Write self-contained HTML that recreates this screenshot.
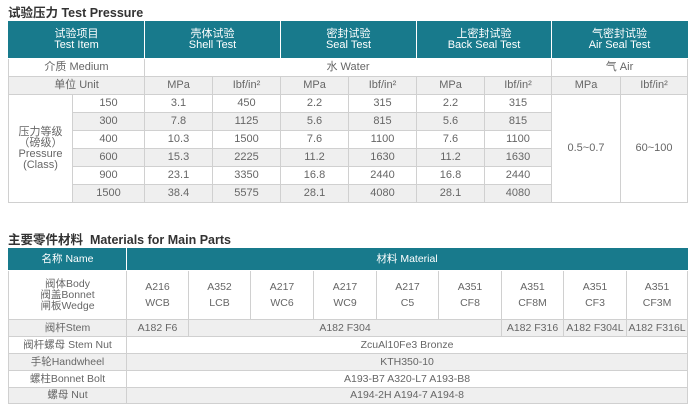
<!DOCTYPE html><html><head><meta charset="utf-8"><style>
*{margin:0;padding:0;box-sizing:border-box}
body{width:694px;height:410px;background:#fff;font-family:"Liberation Sans","Noto Sans CJK SC",sans-serif;color:#666;position:relative;overflow:hidden}
.t{position:absolute;left:8px;font-weight:bold;font-size:12.5px;color:#333}
table{position:absolute;left:8px;border-collapse:collapse;table-layout:fixed;font-size:11px}
td{border:1px solid #d0d0d0;text-align:center;vertical-align:middle;padding:0;line-height:11px;overflow:hidden;white-space:nowrap}
tr.h td{background:#187a8c;color:#fff;border-color:#fff;border-top-color:#187a8c}
tr.h td:first-child{border-left-color:#187a8c}
tr.h td:last-child{border-right-color:#187a8c}
.g{background:#efefef}
.b td{line-height:16px}
.b td:first-child{line-height:11px}
</style></head><body>
<div class="t" style="top:2px">试验压力 Test Pressure</div>
<table style="top:21px;width:679px">
<colgroup><col style="width:64px"><col style="width:72px"><col style="width:68px"><col style="width:68px"><col style="width:68px"><col style="width:68px"><col style="width:68px"><col style="width:67px"><col style="width:69px"><col style="width:67px"></colgroup>
<tr class="h" style="height:37px"><td colspan="2">试验项目<br>Test Item</td><td colspan="2">壳体试验<br>Shell Test</td><td colspan="2">密封试验<br>Seal Test</td><td colspan="2">上密封试验<br>Back Seal Test</td><td colspan="2">气密封试验<br>Air Seal Test</td></tr>
<tr style="height:18px"><td colspan="2">介质 Medium</td><td colspan="6">水 Water</td><td colspan="2">气 Air</td></tr>
<tr class="g" style="height:18px"><td colspan="2">单位 Unit</td><td>MPa</td><td>Ibf/in²</td><td>MPa</td><td>Ibf/in²</td><td>MPa</td><td>Ibf/in²</td><td>MPa</td><td>Ibf/in²</td></tr>
<tr style="height:18px"><td rowspan="6" style="background:#fff">压力等级<br>（磅级）<br>Pressure<br>(Class)</td><td>150</td><td>3.1</td><td>450</td><td>2.2</td><td>315</td><td>2.2</td><td>315</td><td rowspan="6" style="background:#fff">0.5~0.7</td><td rowspan="6" style="background:#fff">60~100</td></tr>
<tr class="g" style="height:18px"><td>300</td><td>7.8</td><td>1125</td><td>5.6</td><td>815</td><td>5.6</td><td>815</td></tr>
<tr style="height:18px"><td>400</td><td>10.3</td><td>1500</td><td>7.6</td><td>1100</td><td>7.6</td><td>1100</td></tr>
<tr class="g" style="height:18px"><td>600</td><td>15.3</td><td>2225</td><td>11.2</td><td>1630</td><td>11.2</td><td>1630</td></tr>
<tr style="height:18px"><td>900</td><td>23.1</td><td>3350</td><td>16.8</td><td>2440</td><td>16.8</td><td>2440</td></tr>
<tr class="g" style="height:18px"><td>1500</td><td>38.4</td><td>5575</td><td>28.1</td><td>4080</td><td>28.1</td><td>4080</td></tr>
</table>
<div class="t" style="top:229px">主要零件材料&nbsp; Materials for Main Parts</div>
<table style="top:248px;width:679px;font-size:10.5px">
<colgroup><col style="width:118px"><col style="width:62px"><col style="width:62px"><col style="width:63px"><col style="width:63px"><col style="width:62px"><col style="width:63px"><col style="width:62px"><col style="width:63px"><col style="width:61px"></colgroup>
<tr class="h" style="height:22px"><td>名称 Name</td><td colspan="9">材料 Material</td></tr>
<tr class="b" style="height:49px"><td>阀体Body<br>阀盖Bonnet<br>闸板Wedge</td><td>A216<br>WCB</td><td>A352<br>LCB</td><td>A217<br>WC6</td><td>A217<br>WC9</td><td>A217<br>C5</td><td>A351<br>CF8</td><td>A351<br>CF8M</td><td>A351<br>CF3</td><td>A351<br>CF3M</td></tr>
<tr class="g" style="height:17px"><td>阀杆Stem</td><td>A182 F6</td><td colspan="5">A182 F304</td><td>A182 F316</td><td>A182 F304L</td><td>A182 F316L</td></tr>
<tr style="height:17px"><td>阀杆螺母 Stem Nut</td><td colspan="9">ZcuAl10Fe3 Bronze</td></tr>
<tr class="g" style="height:17px"><td>手轮Handwheel</td><td colspan="9">KTH350-10</td></tr>
<tr style="height:17px"><td>螺柱Bonnet Bolt</td><td colspan="9">A193-B7 A320-L7 A193-B8</td></tr>
<tr class="g" style="height:16px"><td>螺母 Nut</td><td colspan="9">A194-2H A194-7 A194-8</td></tr>
</table>
</body></html>
